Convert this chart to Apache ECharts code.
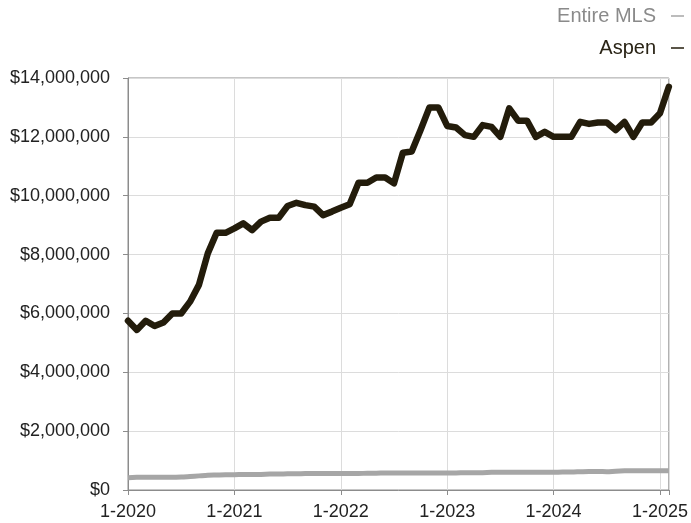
<!DOCTYPE html>
<html>
<head>
<meta charset="utf-8">
<script src="https://cdn.jsdelivr.net/npm/echarts@6/dist/echarts.min.js"></script>
<style>html,body{margin:0;padding:0;background:#fff;}#c{width:691px;height:523px;}</style>
</head>
<body>
<div id="c"></div>
<script>
// Months from 1-2020 through 2-2025 (index 0..61)
const yearTicks = ['1-2020', '1-2021', '1-2022', '1-2023', '1-2024', '1-2025'];
const seriesNames = ['Entire MLS', 'Aspen'];
// Values in millions of dollars
const aspenM = [
  5.75, 5.44, 5.75, 5.57, 5.69, 6.0, 6.0, 6.4, 6.97, 8.04, 8.74, 8.74,
  8.89, 9.06, 8.83, 9.12, 9.25, 9.25, 9.65, 9.76, 9.68, 9.63, 9.34, 9.46,
  9.59, 9.71, 10.44, 10.44, 10.62, 10.62, 10.42, 11.46, 11.5, 12.23, 13.0, 13.0,
  12.37, 12.32, 12.06, 12.0, 12.4, 12.34, 12.0, 12.97, 12.55, 12.55, 12.0, 12.17,
  12.0, 12.0, 12.0, 12.51, 12.44, 12.49, 12.49, 12.23, 12.51, 12.0, 12.49, 12.49,
  12.8, 13.7
];
const mlsM = [
  0.42, 0.43, 0.43, 0.43, 0.43, 0.43, 0.44, 0.46, 0.48, 0.50, 0.51, 0.52,
  0.52, 0.53, 0.53, 0.53, 0.54, 0.54, 0.55, 0.55, 0.56, 0.56, 0.56, 0.56,
  0.56, 0.56, 0.56, 0.57, 0.57, 0.58, 0.58, 0.58, 0.58, 0.58, 0.58, 0.58,
  0.58, 0.58, 0.59, 0.59, 0.59, 0.60, 0.60, 0.60, 0.60, 0.60, 0.60, 0.60,
  0.60, 0.61, 0.61, 0.62, 0.63, 0.63, 0.62, 0.64, 0.65, 0.65, 0.65, 0.65,
  0.65, 0.65
];

const toPairs = arr => arr.map((v, i) => [i, Math.round(v * 1e6)]);
const font = "'Liberation Sans', Arial, Helvetica, sans-serif";

const chart = echarts.init(document.getElementById('c'));
chart.setOption({
  animation: false,
  grid: { left: 128, right: 20, top: 78, bottom: 33, show: true, borderColor: '#8c8c8c', borderWidth: 1, backgroundColor: 'transparent' },
  legend: [
    { data: [seriesNames[0]], right: 7, top: 6, padding: 0, orient: 'vertical', align: 'right', icon: 'rect', itemWidth: 13, itemHeight: 1.5,
      textStyle: { color: '#8a8a8a', fontSize: 20, fontFamily: font, padding: [0, 10, 0, 0] } },
    { data: [seriesNames[1]], right: 7, top: 38, padding: 0, orient: 'vertical', align: 'right', icon: 'rect', itemWidth: 13, itemHeight: 1.5,
      textStyle: { color: '#2a2416', fontSize: 20, fontFamily: font, padding: [0, 10, 0, 0] } }
  ],
  xAxis: {
    type: 'value', min: 0, max: 61, interval: 12,
    axisLine: { show: true, lineStyle: { color: '#8c8c8c' } },
    axisTick: { show: true, length: 5, lineStyle: { color: '#8c8c8c' } },
    axisLabel: {
      color: '#222', fontSize: 18, fontFamily: font, margin: 13,
      formatter: v => (v % 12 === 0 ? yearTicks[v / 12] : '')
    },
    splitLine: { show: true, lineStyle: { color: '#dcdcdc' } }
  },
  yAxis: {
    type: 'value', min: 0, max: 14000000, interval: 2000000,
    axisLine: { show: true, lineStyle: { color: '#8c8c8c' } },
    axisTick: { show: true, length: 5, lineStyle: { color: '#8c8c8c' } },
    axisLabel: {
      color: '#222', fontSize: 18, fontFamily: font, margin: 18,
      formatter: v => '$' + v.toLocaleString('en-US')
    },
    splitLine: { show: true, lineStyle: { color: '#dcdcdc' } }
  },
  series: [
    { name: seriesNames[0], type: 'line', data: toPairs(mlsM), showSymbol: false, smooth: 0.3,
      lineStyle: { color: '#a6a6a6', width: 5 }, itemStyle: { color: '#a6a6a6' } },
    { name: seriesNames[1], type: 'line', data: toPairs(aspenM), showSymbol: false,
      lineStyle: { color: '#231c0b', width: 6.5, join: 'round', cap: 'round' }, itemStyle: { color: '#231c0b' } }
  ]
});
</script>
</body>
</html>
